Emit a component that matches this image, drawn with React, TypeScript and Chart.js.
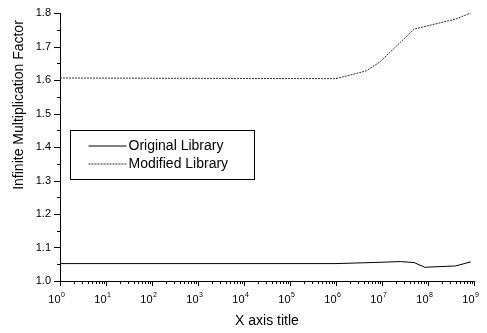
import React, { useEffect, useRef } from "react";
import { Chart, registerables } from "chart.js";

Chart.register(...registerables);

const FONT = "'Liberation Sans', Arial, sans-serif";

// Original Library series
const origX = [1, 1e6, 1e7, 2.5e7, 5e7, 8.5e7, 4e8, 8.5e8];
const origY = [1.052, 1.052, 1.056, 1.058, 1.055, 1.041, 1.045, 1.057];
// Modified Library series
const modX = [1, 1e6, 4.5e6, 9e6, 5e7, 4e8, 8.5e8];
const modY = [1.606, 1.604, 1.627, 1.654, 1.752, 1.782, 1.8];

const seriesLabels = ["Original Library", "Modified Library"];
const yTicks = [1.0, 1.1, 1.2, 1.3, 1.4, 1.5, 1.6, 1.7, 1.8];
const xDecades = [0, 1, 2, 3, 4, 5, 6, 7, 8, 9];
const yTitle = "Infinite Multiplication Factor";
const xTitle = "X axis title";

export default function App() {
  const ref = useRef<HTMLCanvasElement>(null);
  useEffect(() => {
    document.body.style.margin = "0";
    const originPlugin = {
      id: "originDecor",
      afterDraw(chart: any) {
        const ctx = chart.ctx;
        const xs = chart.scales.x;
        const ys = chart.scales.y;
        const { left, bottom, top } = chart.chartArea;
        ctx.save();
        ctx.strokeStyle = "#000";
        ctx.lineWidth = 1;
        ctx.beginPath();
        // y ticks major + minor
        for (let i = 0; i < yTicks.length; i++) {
          const v = yTicks[i];
          const p = Math.round(ys.getPixelForValue(v)) + 0.5;
          ctx.moveTo(left - 6, p);
          ctx.lineTo(left, p);
          if (i < yTicks.length - 1) {
            const pm = Math.round(ys.getPixelForValue(v + 0.05)) + 0.5;
            ctx.moveTo(left - 3, pm);
            ctx.lineTo(left, pm);
          }
        }
        // x ticks major + minor
        for (const d of xDecades) {
          for (let m = 1; m <= 9; m++) {
            if (d === 9 && m > 1) break;
            const v = m * Math.pow(10, d);
            const p = Math.round(xs.getPixelForValue(v)) + 0.5;
            const len = m === 1 ? 5 : 3;
            ctx.moveTo(p, bottom);
            ctx.lineTo(p, bottom + len);
          }
        }
        ctx.stroke();

        // y tick labels
        ctx.fillStyle = "#000";
        ctx.font = `11px ${FONT}`;
        ctx.textAlign = "right";
        ctx.textBaseline = "middle";
        for (const v of yTicks) {
          ctx.fillText(v.toFixed(1), left - 9, ys.getPixelForValue(v));
        }

        // x tick labels: 10 with superscript exponent
        ctx.textBaseline = "alphabetic";
        for (const d of xDecades) {
          const p = xs.getPixelForValue(Math.pow(10, d));
          ctx.font = `11px ${FONT}`;
          ctx.textAlign = "right";
          ctx.fillText("10", p + 0.5, bottom + 22);
          ctx.font = `7px ${FONT}`;
          ctx.textAlign = "left";
          ctx.fillText(String(d), p + 1, bottom + 16);
        }

        // y axis title
        ctx.save();
        ctx.font = `14px ${FONT}`;
        ctx.textAlign = "center";
        ctx.textBaseline = "middle";
        ctx.translate(19, top + 92);
        ctx.rotate(-Math.PI / 2);
        ctx.fillText(yTitle, 0, 0);
        ctx.restore();

        // legend box
        const bx = Math.round(left) + 10.5;
        const by = Math.round(top) + 117.5;
        const bw = 184;
        const bh = 49;
        ctx.fillStyle = "#fff";
        ctx.fillRect(bx, by, bw, bh);
        ctx.strokeStyle = "#000";
        ctx.strokeRect(bx, by, bw, bh);
        ctx.font = `14px ${FONT}`;
        ctx.textBaseline = "middle";
        ctx.textAlign = "left";
        chart.data.datasets.forEach((ds: any, i: number) => {
          const ly = by + 15 + i * 18;
          ctx.beginPath();
          ctx.strokeStyle = ds.borderColor;
          ctx.setLineDash(ds.borderDash || []);
          ctx.moveTo(bx + 18, Math.round(ly));
          ctx.lineTo(bx + 56, Math.round(ly));
          ctx.stroke();
          ctx.setLineDash([]);
          ctx.fillStyle = "#000";
          ctx.fillText(ds.label, bx + 58, ly + 1);
        });
        ctx.restore();
      },
    };

    const chart = new Chart(ref.current!, {
      type: "line",
      data: {
        datasets: [
          {
            label: seriesLabels[0],
            data: origX.map((x, i) => ({ x, y: origY[i] })),
            borderColor: "#000",
            borderWidth: 1,
            pointRadius: 0,
            fill: false,
            tension: 0,
          },
          {
            label: seriesLabels[1],
            data: modX.map((x, i) => ({ x, y: modY[i] })),
            borderColor: "#333",
            borderWidth: 1,
            borderDash: [2, 1],
            pointRadius: 0,
            fill: false,
            tension: 0,
          },
        ],
      },
      options: {
        animation: false,
        responsive: false,
        devicePixelRatio: 1,
        layout: { padding: { top: 13, right: 13, left: 0, bottom: 0 } },
        plugins: { legend: { display: false }, tooltip: { enabled: false } },
        scales: {
          x: {
            type: "logarithmic",
            min: 1,
            max: 1e9,
            afterBuildTicks: (scale: any) => {
              scale.ticks = xDecades.map((d) => ({ value: Math.pow(10, d), major: true }));
            },
            afterFit: (scale: any) => {
              scale.height = 52;
            },
            ticks: { display: false },
            grid: { display: false },
            border: { display: true, color: "#000", width: 1 },
            title: {
              display: true,
              text: xTitle,
              color: "#000",
              font: { family: FONT, size: 14 },
              padding: { top: 0, bottom: 3 },
            },
          },
          y: {
            type: "linear",
            min: 1.0,
            max: 1.8,
            afterBuildTicks: (scale: any) => {
              scale.ticks = yTicks.map((v) => ({ value: v }));
            },
            afterFit: (scale: any) => {
              scale.width = 60;
            },
            ticks: { display: false },
            grid: { display: false },
            border: { display: true, color: "#000", width: 1 },
          },
        },
      },
      plugins: [originPlugin],
    });
    return () => chart.destroy();
  }, []);
  return (
    <div style={{ position: "absolute", left: 0, top: 0, width: 487, height: 333, background: "#fff" }}>
      <canvas ref={ref} width={487} height={333} style={{ width: 487, height: 333 }} />
    </div>
  );
}
